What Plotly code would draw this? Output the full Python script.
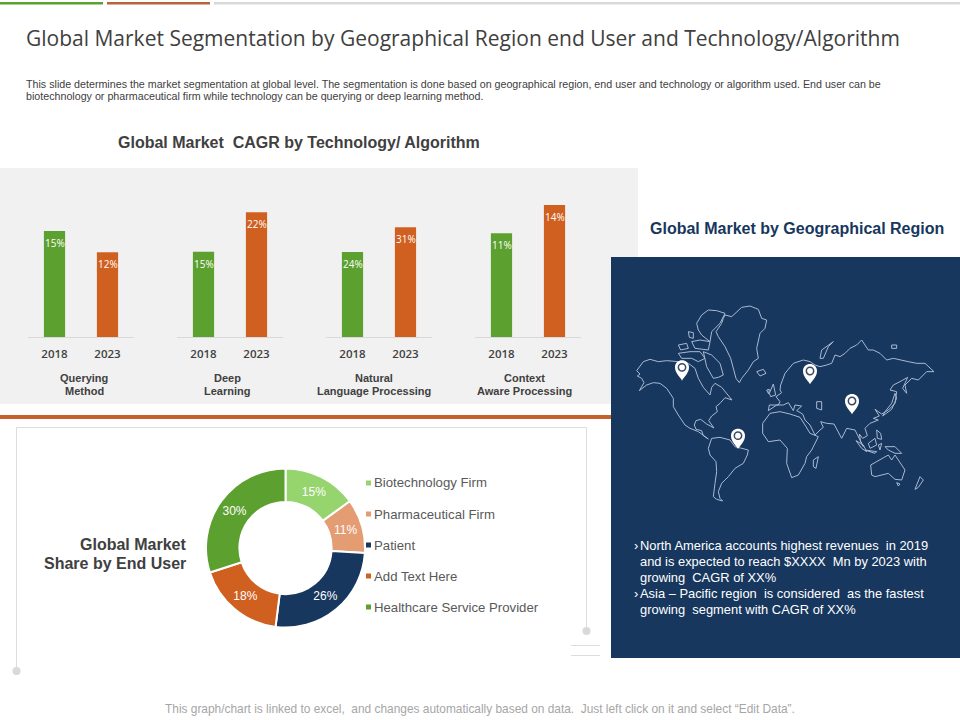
import plotly.graph_objects as go

# bar charts
techs = ['Querying<br>Method', 'Deep<br>Learning', 'Natural<br>Language Processing', 'Context<br>Aware Processing']
years = ['2018', '2023']
cagr_2018 = [15, 15, 24, 11]
cagr_2023 = [12, 22, 31, 14]
y_tops = [20.8, 25.9, 41.5, 15.6]
bar_left = [28, 177, 326, 475]
tech_centers = [84, 227, 374, 524]

# donut
users = ['Biotechnology Firm', 'Pharmaceutical Firm', 'Patient', 'Add Text Here', 'Healthcare Service Provider']
shares = [15, 11, 26, 18, 30]
user_colors = ['#96D46E', '#E49C73', '#17375E', '#D06020', '#5CA02F']

# map outline (grid of 1050 x 690)
north_america_x = [88, 102, 95, 82, 90, 80, 100, 120, 145, 170, 195, 235, 255, 265, 280, 300, 305, 315, 335, 355, 366, 345, 330, 318, 322, 305, 296, 312, 290, 272, 258, 253, 258, 275, 280, 295, 285, 265, 240, 225, 205, 190, 190, 170, 150, 130, 110, 88]
north_america_y = [302, 278, 265, 258, 252, 242, 215, 208, 215, 212, 214, 220, 235, 265, 292, 315, 292, 280, 292, 315, 330, 323, 340, 350, 365, 378, 392, 414, 402, 388, 392, 405, 418, 422, 437, 447, 440, 425, 415, 405, 375, 350, 325, 295, 280, 278, 285, 302]
south_america_x = [305, 330, 360, 375, 395, 415, 412, 400, 375, 355, 335, 325, 330, 338, 320, 310, 315, 320, 318, 300, 295, 305]
south_america_y = [445, 442, 450, 470, 475, 480, 495, 520, 535, 560, 580, 605, 625, 633, 628, 620, 580, 545, 515, 495, 475, 445]
greenland_x = [340, 345, 365, 385, 395, 420, 445, 455, 470, 465, 450, 440, 445, 430, 415, 395, 388, 378, 368, 362, 345, 325, 318, 335, 340]
greenland_y = [85, 75, 80, 60, 52, 48, 58, 85, 90, 115, 130, 175, 205, 215, 240, 265, 278, 265, 230, 205, 170, 140, 125, 100, 85]
ellesmere_x = [260, 275, 295, 320, 345, 338, 330, 305, 300, 275, 265, 260]
ellesmere_y = [100, 75, 60, 62, 70, 85, 100, 125, 155, 135, 120, 100]
baffin_x = [280, 305, 330, 340, 325, 310, 290, 280]
baffin_y = [185, 195, 220, 255, 262, 265, 230, 185]
arctic_x = [235, 250, 250, 238, 235, None, 205, 230, 235, 212, 205, None, 245, 270, 300, 295, 255, 245, None, 205, 240, 270, 285, 265, 245, 215, 205]
arctic_y = [125, 128, 145, 142, 125, None, 165, 160, 175, 180, 165, None, 155, 150, 155, 180, 175, 155, None, 190, 185, 185, 205, 215, 205, 205, 190]
iceland_x = [440, 460, 468, 450, 440]
iceland_y = [245, 238, 250, 258, 245]
britain_x = [478, 490, 497, 482, 478, None, 470, 478, 476, 470]
britain_y = [310, 282, 315, 320, 310, None, 300, 298, 312, 300]
eurasia_x = [475, 478, 505, 510, 498, 515, 510, 512, 525, 550, 580, 600, 615, 630, 650, 665, 675, 690, 705, 720, 740, 755, 775, 790, 810, 830, 850, 870, 895, 920, 945, 972, 950, 925, 905, 885, 890, 878, 893, 870, 850, 840, 860, 855, 835, 815, 795, 808, 790, 805, 780, 765, 772, 758, 748, 752, 760, 745, 735, 710, 695, 672, 650, 632, 640, 630, 615, 600, 585, 578, 560, 575, 555, 550, 535, 520, 500, 475]
eurasia_y = [362, 345, 345, 335, 320, 308, 300, 285, 250, 220, 210, 215, 225, 230, 225, 220, 195, 200, 190, 175, 165, 150, 180, 180, 190, 210, 205, 210, 215, 220, 220, 245, 245, 270, 265, 285, 310, 295, 262, 275, 285, 300, 305, 340, 360, 372, 358, 378, 385, 390, 400, 415, 437, 445, 432, 455, 470, 440, 420, 415, 445, 402, 400, 395, 412, 420, 435, 405, 390, 372, 362, 348, 345, 362, 338, 345, 345, 362]
caspian_x = [620, 635, 635, 620, 620]
caspian_y = [335, 335, 360, 355, 335]
africa_x = [480, 510, 540, 570, 585, 600, 625, 605, 590, 585, 565, 545, 530, 532, 510, 475, 458, 458, 480]
africa_y = [370, 365, 372, 382, 405, 430, 440, 480, 500, 520, 555, 563, 520, 475, 450, 455, 430, 400, 370]
madagascar_x = [610, 625, 618, 610, 610]
madagascar_y = [510, 500, 535, 530, 510]
australia_x = [782, 815, 835, 845, 855, 885, 875, 855, 835, 795, 785, 782]
australia_y = [525, 505, 495, 510, 495, 540, 570, 568, 550, 560, 555, 525]
new_zealand_x = [930, 940, 925, 915, 920, 930]
new_zealand_y = [560, 570, 592, 598, 585, 560]
japan_x = [818, 845, 860, 855, 845, 825, 818]
japan_y = [378, 358, 325, 310, 340, 365, 378]
zemlya_x = [630, 635, 670, 655, 640, 630]
zemlya_y = [205, 180, 155, 170, 205, 205]
sumatra_x = [738, 760, 770, 755, 738]
sumatra_y = [452, 465, 485, 475, 452]
java_x = [765, 800, 795, 765]
java_y = [480, 485, 490, 480]
borneo_x = [775, 795, 800, 780, 775]
borneo_y = [460, 445, 465, 475, 460]
sulawesi_x = [805, 815, 810, 805]
sulawesi_y = [465, 460, 480, 465]
philippines_x = [800, 812, 815, 802, 800]
philippines_y = [420, 430, 448, 445, 420]
new_guinea_x = [825, 855, 875, 855, 835, 825]
new_guinea_y = [470, 470, 490, 490, 480, 470]
small_x = [845, 860, 860, 845, 845, None, 860, 870, 865, 860]
small_y = [165, 165, 175, 175, 165, None, 578, 582, 588, 578]
pin_x = [216, 600, 726, 384]
pin_y = [232, 243, 333, 437]

land = [
    (north_america_x, north_america_y), (south_america_x, south_america_y), (greenland_x, greenland_y),
    (ellesmere_x, ellesmere_y), (baffin_x, baffin_y), (arctic_x, arctic_y), (iceland_x, iceland_y),
    (britain_x, britain_y), (eurasia_x, eurasia_y), (caspian_x, caspian_y), (africa_x, africa_y),
    (madagascar_x, madagascar_y), (australia_x, australia_y), (new_zealand_x, new_zealand_y), (japan_x, japan_y),
    (zemlya_x, zemlya_y), (sumatra_x, sumatra_y), (java_x, java_y), (borneo_x, borneo_y), (sulawesi_x, sulawesi_y),
    (philippines_x, philippines_y), (new_guinea_x, new_guinea_y), (small_x, small_y),
]

W, H = 960, 720
GREEN, ORANGE, NAVY, DARK = '#5CA02F', '#D06020', '#17375E', '#404040'
ARIAL = 'Liberation Sans, Arial, sans-serif'
OPEN = 'Open Sans, sans-serif'


def px(x):
    return x / W


def py(y):
    return 1 - y / H


fig = go.Figure()
notes = []
shapes = []


def note(x, y, text, size, color=DARK, family=ARIAL, bold=False, anchor='left'):
    # annotations carry about 2px of padding on the anchored side
    nudge = {'left': -2, 'right': 2, 'center': 0}[anchor]
    notes.append(dict(x=px(x + nudge), y=py(y), xref='paper', yref='paper', text=text, showarrow=False,
                      xanchor=anchor, yanchor='middle', align=anchor,
                      font=dict(size=size, color=color, family=family, weight='bold' if bold else 'normal')))


def rect(x0, y0, x1, y1, color):
    shapes.append(dict(type='rect', xref='paper', yref='paper', x0=px(x0), x1=px(x1), y0=py(y0), y1=py(y1),
                       fillcolor=color, line_width=0, layer='below'))


def line(x0, y0, x1, y1, color='#DDDDDD', width=1):
    shapes.append(dict(type='line', xref='paper', yref='paper', x0=px(x0), x1=px(x1), y0=py(y0), y1=py(y1),
                       line=dict(color=color, width=width), layer='below'))


# panels and rules
rect(0, 2, 103, 4.5, GREEN)
rect(107, 2, 210, 4.5, '#B5673A')
rect(214, 2, 960, 4.5, '#D9D9D9')
rect(0, 168, 638, 404, '#F1F1F1')
rect(0, 415, 611, 419, '#C5622B')
rect(611, 257, 960, 658, NAVY)
line(16.5, 427.5, 586.5, 427.5)
line(16.5, 427.5, 16.5, 667)
line(586.5, 427.5, 586.5, 627)
line(571, 645.5, 600, 645.5)
line(571, 655.5, 600, 655.5)
for cx, cy in [(16.5, 671), (586.5, 631)]:
    shapes.append(dict(type='circle', xref='paper', yref='paper', x0=px(cx - 4), x1=px(cx + 4),
                       y0=py(cy + 4), y1=py(cy - 4), fillcolor='#D9D9D9', line_width=0, layer='below'))

# small multiples, each group has its own y scale like the source
layout_axes = {}
for i, tech in enumerate(techs):
    n = i + 1
    vals = [cagr_2018[i], cagr_2023[i]]
    fig.add_trace(go.Bar(x=years, y=vals, width=0.4, marker=dict(color=[GREEN, ORANGE], line_width=0),
                         showlegend=False, xaxis=f'x{n}', yaxis=f'y{n}'))
    layout_axes[f'xaxis{n}'] = dict(domain=[px(bar_left[i]), px(bar_left[i] + 106)], anchor=f'y{n}', type='category',
                                    automargin=False, showgrid=False, zeroline=False, showline=True,
                                    linecolor='#D9D9D9', linewidth=1, ticks='', ticklabelstandoff=6,
                                    tickfont=dict(size=11.5, color=DARK, family=OPEN, weight=600))
    layout_axes[f'yaxis{n}'] = dict(domain=[py(337), py(190)], anchor=f'x{n}', range=[0, y_tops[i]],
                                    visible=False, automargin=False)
    for k, v in enumerate(vals):
        notes.append(dict(x=k, y=v, xref=f'x{n}', yref=f'y{n}', text=f'{v}%', showarrow=False, yshift=-12,
                          font=dict(size=10, color='white', family=OPEN), yanchor='middle'))
    first, second = tech.split('<br>')
    note(tech_centers[i], 378, first, 11, '#404040', ARIAL, True, 'center')
    note(tech_centers[i], 391, second, 11, '#404040', ARIAL, True, 'center')

# donut
fig.add_trace(go.Pie(labels=users, values=shares, hole=0.58, sort=False, direction='clockwise', rotation=0,
                     marker=dict(colors=user_colors, line=dict(color='white', width=2)),
                     text=[f'{s}%' for s in shares], textinfo='text', textposition='inside',
                     insidetextorientation='horizontal', textfont=dict(size=12, color='white', family=ARIAL),
                     domain=dict(x=[px(206), px(365)], y=[py(627.5), py(468.5)]), showlegend=False))

for i, user in enumerate(users):
    yy = 483 + i * 31
    rect(366, yy - 2.5, 371, yy + 2.5, user_colors[i])
    note(374, yy, user, 13.2, '#595959')

# world map
map_x, map_y = [], []
for xs, ys in land:
    map_x += xs + [None]
    map_y += ys + [None]
fig.add_trace(go.Scatter(x=map_x, y=map_y, mode='lines', line=dict(color='#A9B9D2', width=1), showlegend=False,
                         xaxis='x5', yaxis='y5'))
layout_axes['xaxis5'] = dict(domain=[px(610), 1], anchor='y5', range=[0, 1050], visible=False, automargin=False)
layout_axes['yaxis5'] = dict(domain=[py(520), py(290)], anchor='x5', range=[690, 0], visible=False, automargin=False)
for cx, cy in zip(pin_x, pin_y):
    r = 21
    d = (f'M {cx - r},{cy} C {cx - r},{cy - 28} {cx + r},{cy - 28} {cx + r},{cy} '
         f'C {cx + r},{cy + 18} {cx + 6},{cy + 28} {cx},{cy + 40} C {cx - 6},{cy + 28} {cx - r},{cy + 18} {cx - r},{cy} Z')
    shapes.append(dict(type='path', path=d, xref='x5', yref='y5', fillcolor='white', line_width=0, layer='above'))
    shapes.append(dict(type='circle', xref='x5', yref='y5', x0=cx - 11, x1=cx + 11, y0=cy - 11, y1=cy + 11,
                       line=dict(color='#3A4A63', width=1.5), fillcolor='white', layer='above'))

# texts
note(26, 38, 'Global Market Segmentation by Geographical Region end User and Technology/Algorithm', 21, DARK, OPEN)
note(26, 84, 'This slide determines the market segmentation at global level. The segmentation is done based on geographical region, end user and technology or algorithm used. End user can be', 10.7)
note(26, 96, 'biotechnology or pharmaceutical firm while technology can be querying or deep learning method.', 10.7)
note(298.5, 142.5, 'Global Market  CAGR by Technology/ Algorithm', 16, DARK, ARIAL, True, 'center')
note(796.5, 228, 'Global Market by Geographical Region', 16, NAVY, ARIAL, True, 'center')
note(186, 544, 'Global Market', 16, DARK, ARIAL, True, 'right')
note(186, 563, 'Share by End User', 16, DARK, ARIAL, True, 'right')
note(634, 545, '›', 12.9, 'white')
note(634, 593, '›', 12.9, 'white')
note(640, 545, 'North America accounts highest revenues  in 2019', 12.9, 'white')
note(640, 561, 'and is expected to reach $XXXX  Mn by 2023 with', 12.9, 'white')
note(640, 577, 'growing  CAGR of XX%', 12.9, 'white')
note(640, 593, 'Asia – Pacific region  is considered  as the fastest', 12.9, 'white')
note(640, 609, 'growing  segment with CAGR of XX%', 12.9, 'white')
note(480, 709, 'This graph/chart is linked to excel,  and changes automatically based on data.  Just left click on it and select “Edit Data”.', 11.9, '#A6A6A6', ARIAL, False, 'center')

fig.update_layout(width=W, height=H, margin=dict(l=0, r=0, t=0, b=0), paper_bgcolor='white', plot_bgcolor='rgba(0,0,0,0)',
                  annotations=notes, shapes=shapes, **layout_axes)
fig.write_html("out.html", config={'displayModeBar': False}, post_script="document.body.style.margin='0';")
